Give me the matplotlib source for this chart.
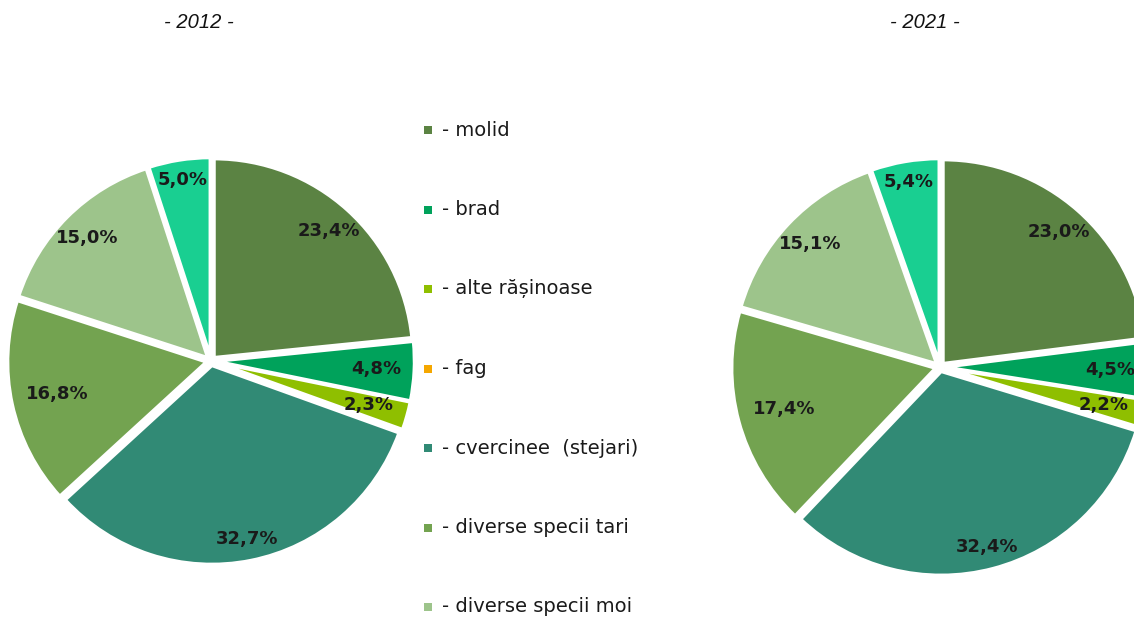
import numpy as np
import matplotlib
matplotlib.use("Agg")
import matplotlib.pyplot as plt

# legend categories (fag has no slice, the mint slice has no legend entry)
categories = ["molid", "brad", "alte rășinoase", "fag", "cvercinee  (stejari)",
              "diverse specii tari", "diverse specii moi", ""]
colors = ["#5b8343", "#00a25b", "#8fbf00", "#f5a700", "#318a75",
          "#73a350", "#9dc48b", "#19cf91"]
years = ["- 2012 -", "- 2021 -"]
values_2012 = [23.4, 4.8, 2.3, 0.0, 32.7, 16.8, 15.0, 5.0]
values_2021 = [23.0, 4.5, 2.2, 0.0, 32.4, 17.4, 15.1, 5.4]

# where each percentage sits, as a fraction of the radius
label_dist = [0.86, 0.81, 0.80, 0.8, 0.89, 0.77, 0.855, 0.9]

W, H = 1134, 619
fig = plt.figure(figsize=(W / 100, H / 100), dpi=100)
ax = fig.add_axes([0, 0, 1, 1])


def draw_pie(values, cx, cy, r):
    keep = [i for i, v in enumerate(values) if v > 0]
    vals = [values[i] for i in keep]
    cols = [colors[i] for i in keep]
    dists = [label_dist[i] for i in keep]
    wedges, _ = ax.pie(vals, colors=cols, startangle=90, counterclock=False,
                       center=(cx, H - cy), radius=r, explode=[4.5] * len(vals),
                       wedgeprops=dict(edgecolor="white", linewidth=2.5))
    for w, v, d in zip(wedges, vals, dists):
        mid = np.deg2rad((w.theta1 + w.theta2) / 2)
        x0, y0 = w.center
        ax.text(x0 + d * r * np.cos(mid), y0 + d * r * np.sin(mid),
                f"{v:.1f}%".replace(".", ","), ha="center", va="center",
                fontsize=13, fontweight="bold", color="#1a1a1a")


draw_pie(values_2012, 211, 361, 199)
draw_pie(values_2021, 940, 367, 204)

ax.set_xlim(0, W)
ax.set_ylim(0, H)
ax.set_aspect("equal")
ax.axis("off")

for txt, x in zip(years, [199, 925]):
    ax.text(x, H - 22, txt, ha="center", va="center", fontsize=14.5,
            style="italic", family="Liberation Sans", color="#111111")

# legend drawn by hand, one row per category
legend_y = np.linspace(130, 607, 7)
for name, col, y in zip(categories[:7], colors[:7], legend_y):
    ax.scatter([428], [H - y], marker="s", s=32, color=col, linewidths=0)
    ax.text(442, H - y, "- " + name, ha="left", va="center", fontsize=14,
            color="#1a1a1a")

fig.savefig("out.png", dpi=100)
